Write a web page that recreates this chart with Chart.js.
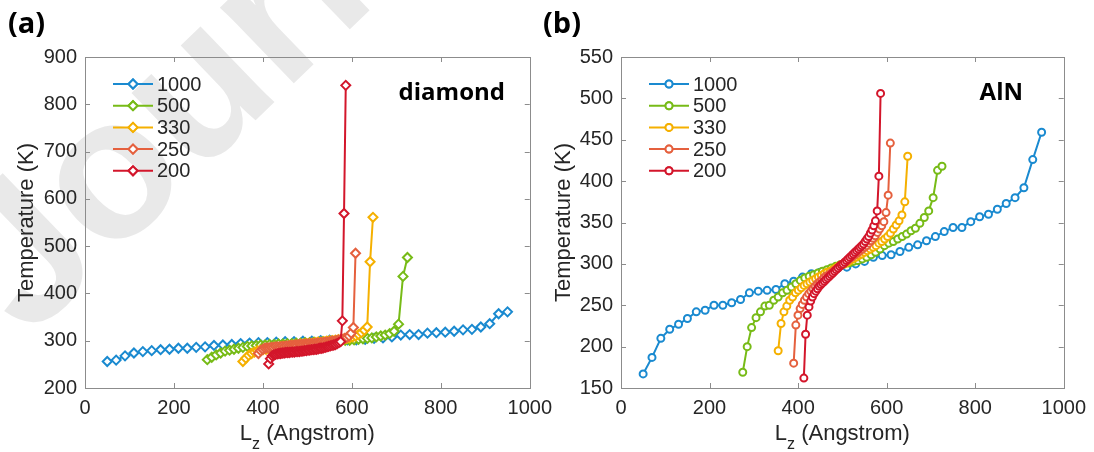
<!DOCTYPE html>
<html>
<head>
<meta charset="utf-8">
<script src="https://cdn.jsdelivr.net/npm/chart.js@4.4.1/dist/chart.umd.min.js"></script>
<style>
  html, body { margin: 0; padding: 0; background: #fff; }
  #wrap { position: relative; width: 1094px; height: 452px; overflow: hidden; }
  #cA { position: absolute; left: 0; top: 0; }
  #cB { position: absolute; left: 540px; top: 0; }
</style>
</head>
<body>
<div id="wrap">
  <canvas id="cA" width="560" height="452" style="width:560px;height:452px"></canvas>
  <canvas id="cB" width="554" height="452" style="width:554px;height:452px"></canvas>
</div>
<script>
// series (period length) names and colours
var seriesNames = ['1000', '500', '330', '250', '200'];
var colors = ['#1a8ad0', '#77bb17', '#f5b000', '#e5603e', '#d3162b'];

// tick labels
var xTicks = [0, 200, 400, 600, 800, 1000];
var yTicksA = [200, 300, 400, 500, 600, 700, 800, 900];
var yTicksB = [150, 200, 250, 300, 350, 400, 450, 500, 550];

// Lz positions (Angstrom), same in both panels
var x1000 = [50,70,90,110,130,150,170,190,210,230,250,270,290,310,330,350,370,390,410,430,450,470,490,510,530,550,570,590,610,630,650,670,690,710,730,750,770,790,810,830,850,870,890,910,930,950];
var x500 = [275,285,295,305,315,325,335,345,355,365,375,385,395,405,415,425,435,445,455,465,475,485,495,505,515,525,535,545,555,565,575,585,595,605,615,625,635,645,655,665,675,685,695,705,715,725];
var x330 = [355,361.5,368,374.5,381,387.5,394,400.5,407,413.5,420,426.5,433,439.5,446,452.5,459,465.5,472,478.5,485,491.5,498,504.5,511,517.5,524,530.5,537,543.5,550,556.5,563,569.5,576,582.5,589,595.5,602,608.5,615,621.5,628,634.5,641,647.5];
var x250 = [390,394.9,399.7,404.6,409.4,414.3,419.1,424,428.8,433.7,438.5,443.4,448.2,453.1,457.9,462.8,467.6,472.5,477.3,482.2,487,491.9,496.7,501.6,506.4,511.3,516.1,521,525.8,530.7,535.5,540.4,545.2,550.1,554.9,559.8,564.6,569.5,574.3,579.2,584,588.9,593.7,598.6,603.4,608.3];
var x200 = [413,416.9,420.7,424.6,428.4,432.3,436.1,440,443.8,447.7,451.5,455.4,459.2,463.1,466.9,470.8,474.6,478.5,482.3,486.2,490,493.9,497.7,501.6,505.4,509.3,513.1,517,520.8,524.7,528.5,532.4,536.2,540.1,543.9,547.8,551.6,555.5,559.3,563.2,567,570.9,574.7,578.6,582.4,586.3];

// (a) diamond, temperature (K)
var a1000 = [256,259,268,274,277,279,281,282,284,284,286,287,290,291,292,294,295,296,296,297,298,298,299,299,300,301,301,302,302,303,305,306,308,312,313,313,316,317,318,320,323,324,329,336,357,361];
var a500 = [260,265,270,274,278,280,282,284,286,288,289,290,291,291,292,292,293,293,294,294,295,295,296,296,297,297,298,298,299,299,300,301,301,302,303,304,305,306,308,310,312,315,320,335,436,476];
var a330 = [256,263,269,273,276,279,280,281,282,283,284,285,286,287,288,288,289,290,290,291,292,293,294,294,295,296,297,297,298,299,300,300,301,302,303,304,305,306,308,310,313,317,322,329,467,561];
var a250 = [273,279,282,284,285,285,286,286,287,287,287,288,288,289,289,290,290,291,291,292,292,292,293,293,294,294,294,295,295,296,296,297,297,298,299,299,300,301,302,303,305,307,310,316,328,485];
var a200 = [251,262,268,270,271,272,273,273,274,274,275,275,275,276,276,276,277,277,277,278,278,279,279,280,280,281,281,282,282,283,284,284,285,286,287,288,289,290,291,292,294,296,298,342,569,840];

// (b) AlN, temperature (K)
var b1000 = [167,187,210,221,227,234,242,244,250,250,253,257,265,267,268,269,276,279,284,288,290,293,295,296,300,303,308,310,311,315,320,323,328,333,339,344,344,351,357,360,366,373,380,392,426,459];
var b500 = [169,200,223,235,242,249,250,256,260,265,268,272,276,280,283,285,287,289,291,293,295,297,299,300,301,303,304,306,308,311,314,318,322,325,327,330,333,336,340,343,349,356,364,380,413,418];
var b330 = [195,228,242,249,256,260,265,268,271,274,276,278,280,282,284,286,288,290,291,293,295,297,299,300,302,304,306,308,310,312,314,316,318,320,322,325,327,330,333,337,342,347,352,359,375,430];
var b250 = [180,226,238,246,251,256,260,264,267,270,273,276,278,280,283,285,286,288,290,292,294,296,298,300,302,304,306,308,310,312,314,316,318,320,322,325,328,331,334,338,342,346,351,362,383,446];
var b200 = [162,215,238,248,255,260,264,267,270,273,275,277,279,281,283,285,287,289,291,293,295,297,299,300,302,304,306,308,310,312,314,316,318,320,322,324,327,330,333,337,341,346,352,364,406,506];

var xs = [x1000, x500, x330, x250, x200];
var tickFont = { family: 'Liberation Sans', size: 20 };
var ink = '#262626';

function makeSets(ys, style, radius) {
  return seriesNames.map(function (name, k) {
    return {
      label: name,
      data: xs[k].map(function (x, i) { return { x: x, y: ys[k][i] }; }),
      borderColor: colors[k],
      backgroundColor: '#fff',
      pointBackgroundColor: '#fff',
      pointBorderColor: colors[k],
      pointStyle: style,
      pointRadius: radius,
      pointBorderWidth: 2,
      borderWidth: 2,
      tension: 0,
      order: 4 - k
    };
  });
}

// box, inward ticks, legend, titles and watermark
var frame = {
  id: 'frame',
  beforeDraw: function (chart, args, o) {
    if (!o.mark) return;
    var ctx = chart.ctx;
    ctx.save();
    ctx.translate(28, 340);
    ctx.rotate(-44 * Math.PI / 180);
    ctx.font = 'bold 200px "Liberation Sans"';
    ctx.fillStyle = '#e9e9e9';
    ctx.fillText('Journal Pre-proof', 0, 0);
    ctx.restore();
  },
  afterDatasetsDraw: function (chart, args, o) {
    var ctx = chart.ctx, a = chart.chartArea;
    var sx = chart.scales.x, sy = chart.scales.y;
    ctx.save();
    ctx.strokeStyle = '#8c8c8c';
    ctx.lineWidth = 1;
    ctx.strokeRect(Math.round(a.left) + 0.5, Math.round(a.top) + 0.5,
      Math.round(a.right - a.left), Math.round(a.bottom - a.top));
    ctx.beginPath();
    sx.ticks.forEach(function (t) {
      var px = Math.round(sx.getPixelForValue(t.value)) + 0.5;
      ctx.moveTo(px, a.bottom); ctx.lineTo(px, a.bottom - 5);
      ctx.moveTo(px, a.top); ctx.lineTo(px, a.top + 5);
    });
    sy.ticks.forEach(function (t) {
      var py = Math.round(sy.getPixelForValue(t.value)) + 0.5;
      ctx.moveTo(a.left, py); ctx.lineTo(a.left + 5, py);
      ctx.moveTo(a.right, py); ctx.lineTo(a.right - 5, py);
    });
    ctx.stroke();

    // legend
    chart.data.datasets.forEach(function (ds, k) {
      var y = 84 + 21.7 * k;
      ctx.strokeStyle = ds.borderColor;
      ctx.lineWidth = 2;
      ctx.beginPath();
      ctx.moveTo(a.left + 28, y); ctx.lineTo(a.left + 68, y);
      ctx.stroke();
      ctx.fillStyle = '#fff';
      Chart.helpers.drawPoint(ctx, { pointStyle: ds.pointStyle, radius: ds.pointRadius, rotation: 0, borderWidth: 2 }, a.left + 48, y);
      ctx.fill(); ctx.stroke();
      ctx.fillStyle = ink;
      ctx.font = '20px "Liberation Sans"';
      ctx.textBaseline = 'middle';
      ctx.textAlign = 'left';
      ctx.fillText(ds.label, a.left + 72, y + 1);
    });

    // material tag
    ctx.fillStyle = '#000';
    ctx.font = 'bold 24px "Open Sans"';
    ctx.textAlign = 'right';
    ctx.textBaseline = 'middle';
    ctx.fillText(o.tag, o.tagRight, 93);

    // panel letter
    ctx.font = 'bold 29px "Open Sans"';
    ctx.textAlign = 'left';
    ctx.fillText(o.panel, o.panelX, 25);

    // y title
    ctx.fillStyle = ink;
    ctx.font = '22px "Liberation Sans"';
    ctx.textAlign = 'center';
    ctx.save();
    ctx.translate(o.yTitleX, (a.top + a.bottom) / 2);
    ctx.rotate(-Math.PI / 2);
    ctx.fillText('Temperature (K)', 0, 0);
    ctx.restore();

    // x title with subscript
    ctx.textAlign = 'left';
    ctx.textBaseline = 'alphabetic';
    ctx.font = '22px "Liberation Sans"';
    var wL = ctx.measureText('L').width;
    var wR = ctx.measureText(' (Angstrom)').width;
    ctx.font = '16px "Liberation Sans"';
    var wZ = ctx.measureText('z').width;
    var x0 = (a.left + a.right) / 2 - (wL + wZ + wR) / 2;
    ctx.font = '22px "Liberation Sans"';
    ctx.fillText('L', x0, 440);
    ctx.fillText(' (Angstrom)', x0 + wL + wZ, 440);
    ctx.font = '16px "Liberation Sans"';
    ctx.fillText('z', x0 + wL, 449);
    ctx.restore();
  }
};

function config(ys, style, radius, yMin, yMax, yTicks, yWidth, rightPad, extra) {
  return {
    type: 'line',
    data: { datasets: makeSets(ys, style, radius) },
    options: {
      responsive: false,
      animation: false,
      layout: { padding: { left: 0, right: rightPad, top: 57, bottom: 0 } },
      plugins: {
        legend: { display: false },
        tooltip: { enabled: false },
        frame: extra
      },
      scales: {
        x: {
          type: 'linear', min: 0, max: 1000,
          afterBuildTicks: function (s) { s.ticks = xTicks.map(function (v) { return { value: v }; }); },
          grid: { display: false, drawTicks: false },
          border: { display: false },
          ticks: { font: tickFont, color: ink, padding: 8, maxRotation: 0,
            callback: function (v) { return String(v); } },
          afterFit: function (s) { s.height = 64; }
        },
        y: {
          type: 'linear', min: yMin, max: yMax,
          afterBuildTicks: function (s) { s.ticks = yTicks.map(function (v) { return { value: v }; }); },
          grid: { display: false, drawTicks: false },
          border: { display: false },
          ticks: { font: tickFont, color: ink, padding: 8,
            callback: function (v) { return String(v); } },
          afterFit: function (s) { s.width = yWidth; }
        }
      }
    },
    plugins: [frame]
  };
}

new Chart(document.getElementById('cA'),
  config([a1000, a500, a330, a250, a200], 'rectRot', 4.5, 200, 900, yTicksA, 85, 30,
    { mark: true, tag: 'diamond', tagRight: 505, panel: '(a)', panelX: 8, yTitleX: 27 }));

new Chart(document.getElementById('cB'),
  config([b1000, b500, b330, b250, b200], 'circle', 3.5, 150, 550, yTicksB, 81, 27,
    { mark: false, tag: 'AlN', tagRight: 483, panel: '(b)', panelX: 3, yTitleX: 24 }));
</script>
</body>
</html>
